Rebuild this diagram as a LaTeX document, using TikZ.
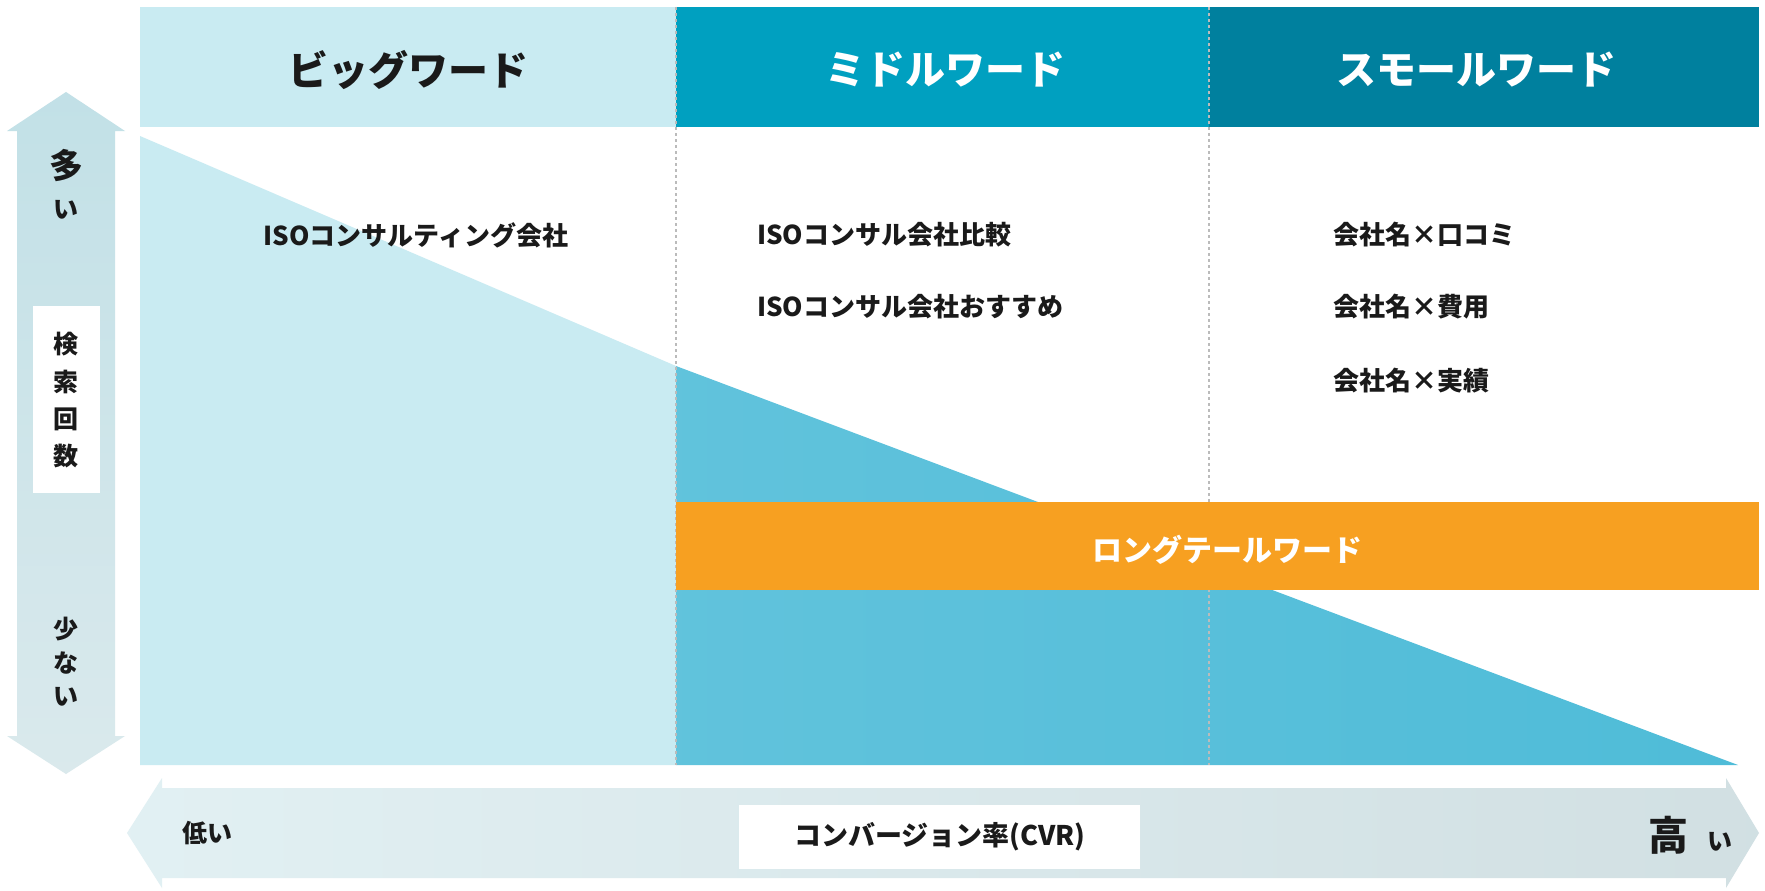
\documentclass[tikz,border=0pt]{standalone}
\usepackage{fontspec}
\setmainfont{Noto Sans CJK JP}
\usetikzlibrary{shadings}
\definecolor{hA}{HTML}{C9EBF2}
\definecolor{hB}{HTML}{00A0C0}
\definecolor{hC}{HTML}{00809E}
\definecolor{tri}{HTML}{4FBCD8}
\definecolor{org}{HTML}{F7A021}
\definecolor{txt}{HTML}{1A1A1A}
\definecolor{dashgray}{HTML}{BBBBBB}
\begin{document}
\begin{tikzpicture}[x=1pt,y=-1pt,
  hdr/.style={font=\fontsize{40}{44}\selectfont\bfseries, inner sep=0pt},
  kw/.style={font=\fontsize{26}{30}\selectfont\bfseries, text=txt, inner sep=0pt},
  ax/.style={font=\fontsize{25}{28}\selectfont\bfseries, text=txt, inner sep=0pt}]
\useasboundingbox (0,0) rectangle (1765,891);
\fill[white] (0,0) rectangle (1765,891);
% headers
\fill[hA] (140,7) rectangle (676,127);
\fill[hB] (676,7) rectangle (1209,127);
\fill[hC] (1209,7) rectangle (1759,127);
\node[hdr,text=txt] (h1) at (408,70) {ビッグワード};
\node[hdr,text=white] (h2) at (945,70) {ミドルワード};
\node[hdr,text=white] (h3) at (1476,70) {スモールワード};
% triangle
\fill[hA] (140,136) -- (676,366) -- (676,765) -- (140,765) -- cycle;
\shade[left color=tri!90!white, right color=tri] (676,366) -- (1738,765) -- (676,765) -- cycle;
% dashed dividers
\draw[dashgray, dashed, line width=1.2pt] (676,7) -- (676,765);
\draw[dashgray, dashed, line width=1.2pt] (1209,7) -- (1209,765);
% orange band
\fill[org] (676,502) rectangle (1759,590);
\node[font=\fontsize{30}{34}\selectfont\bfseries, text=white] (lt) at (1227,550) {ロングテールワード};
% keywords
\node[kw] (k1) at (416,235) {ISOコンサルティング会社};
\node[kw,anchor=west] (k2) at (757,235) {ISOコンサル会社比較};
\node[kw,anchor=west] (k3) at (757,307) {ISOコンサル会社おすすめ};
\node[kw,anchor=west] (k4) at (1333,235) {会社名×口コミ};
\node[kw,anchor=west] (k5) at (1333,307) {会社名×費用};
\node[kw,anchor=west] (k6) at (1333,381) {会社名×実績};
% vertical arrow
\shade[top color=hA!90!gray, bottom color=hA!50!white!90!gray]
  (66,92) -- (125,131) -- (115,131) -- (115,736) -- (125,736) -- (66,774)
  -- (7,736) -- (17,736) -- (17,131) -- (7,131) -- cycle;
\fill[white] (33,306) rectangle (100,493);
\node[ax,font=\fontsize{34}{36}\selectfont\bfseries] (m1) at (66,166) {多};
\node[ax] (m2) at (66,210) {い};
\node[ax] (s1) at (66,344) {検};
\node[ax] (s2) at (66,382) {索};
\node[ax] (s3) at (66,419) {回};
\node[ax] (s4) at (66,456) {数};
\node[ax] (f1) at (66,629) {少};
\node[ax] (f2) at (66,663) {な};
\node[ax] (f3) at (66,697) {い};
% horizontal arrow
\shade[left color=hA!45!white!95!gray, right color=hA!70!gray!60!white]
  (127,833) -- (162,778) -- (162,788) -- (1726,788) -- (1726,778) -- (1759,833)
  -- (1726,888) -- (1726,878) -- (162,878) -- (162,888) -- cycle;
\fill[white] (739,805) rectangle (1140,869);
\node[ax,font=\fontsize{27}{30}\selectfont\bfseries] (cvr) at (940,837) {コンバージョン率(CVR)};
\node[ax] (lo) at (207,833) {低い};
\node[ax,font=\fontsize{40}{44}\selectfont\bfseries] (hi1) at (1668,835) {高};
\node[ax] (hi2) at (1720,842) {い};
\end{tikzpicture}
\end{document}
